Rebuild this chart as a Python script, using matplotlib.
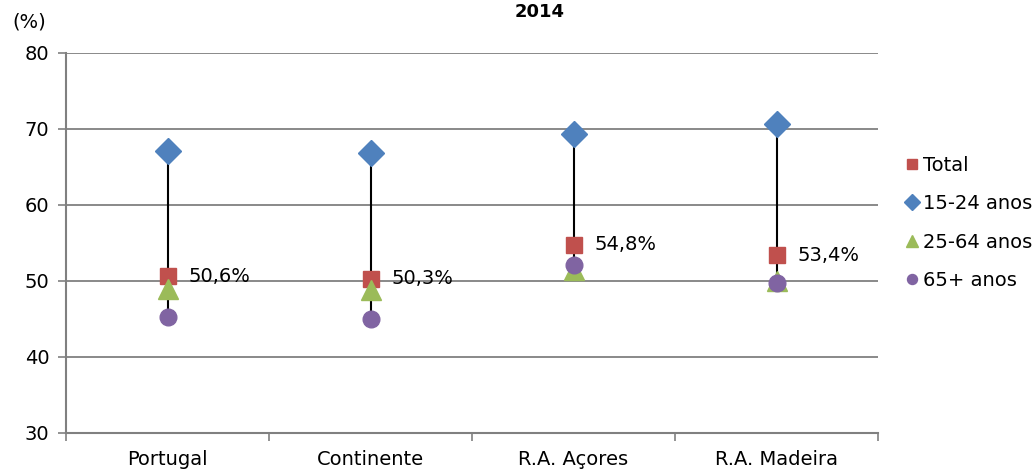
import matplotlib.pyplot as plt
import numpy as np

regions = ['Portugal', 'Continente', 'R.A. Açores', 'R.A. Madeira']
total = [50.6, 50.3, 54.8, 53.4]
age_15_24 = [67.1, 66.8, 69.3, 70.7]
age_25_64 = [48.9, 48.8, 51.5, 50.0]
age_65 = [45.2, 45.0, 52.1, 49.7]
labels = ['50,6%', '50,3%', '54,8%', '53,4%']

plt.rcParams['font.family'] = ['DejaVu Sans']
fig = plt.figure(figsize=(10.35, 4.7), dpi=100)
ax = fig.add_axes([66 / 1035, 1 - 433 / 470, (878 - 66) / 1035, (433 - 53) / 470])

x = np.arange(len(regions))
allv = np.array([total, age_15_24, age_25_64, age_65])
ax.vlines(x, allv.min(axis=0), allv.max(axis=0), color='black', lw=1.5, zorder=2)

ax.plot(x, total, 's', color='#c0504d', ms=11.5, ls='none', label='Total', zorder=3)
ax.plot(x, age_15_24, 'D', color='#4f81bd', ms=13, ls='none', label='15-24 anos', zorder=3)
ax.plot(x, age_25_64, '^', color='#9bbb59', ms=14, ls='none', label='25-64 anos', zorder=3)
ax.plot(x, age_65, 'o', color='#8064a2', ms=12, ls='none', label='65+ anos', zorder=3)

for xi, v, t in zip(x, total, labels):
    ax.annotate(t, (xi, v), xytext=(15, 0), textcoords='offset points',
                va='center', ha='left', fontsize=14)

ax.set_xlim(-0.5, 3.5)
ax.set_ylim(30, 80)
ax.set_yticks(range(30, 81, 10))
ax.set_xticks(np.arange(-0.5, 3.6, 1))
ax.set_xticklabels([])
ax.set_xticks(x, minor=True)
ax.set_xticklabels(regions, minor=True, fontsize=14, family='DejaVu Sans Condensed')
ax.tick_params(axis='x', which='minor', length=0, pad=12)
ax.tick_params(axis='x', which='major', length=6, color='#808080', width=1.2)
ax.tick_params(axis='y', length=6, color='#808080', width=1.2, labelsize=14, pad=6)
ax.grid(axis='y', color='#808080', lw=1.3)
ax.set_axisbelow(True)
for s in ['top', 'right']:
    ax.spines[s].set_visible(False)
for s in ['left', 'bottom']:
    ax.spines[s].set_color('#808080')
    ax.spines[s].set_linewidth(1.5)

fig.text(12 / 1035, 1 - 22 / 470, '(%)', fontsize=14, ha='left', va='center')
fig.text(540 / 1035, 1 - 12 / 470, '2014', fontsize=13, fontweight='bold', ha='center', va='center')

leg = fig.legend(handles=ax.get_lines(), loc='upper left', bbox_to_anchor=(898 / 1035, 1 - 148 / 470),
                 frameon=False, fontsize=14, markerscale=0.6, handlelength=0.6,
                 handletextpad=0.3, labelspacing=1.0, numpoints=1, borderaxespad=0)

fig.savefig('out.png', dpi=100)
